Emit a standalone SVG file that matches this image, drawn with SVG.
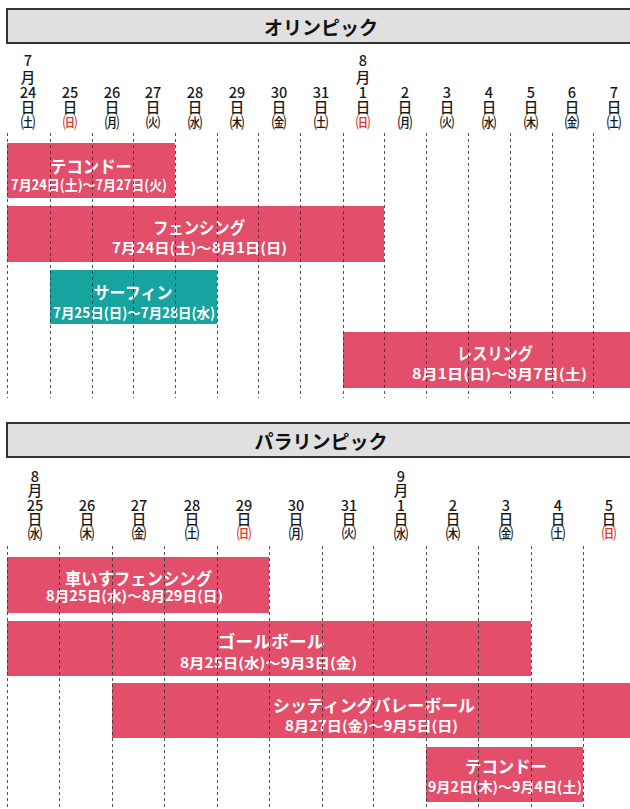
<svg xmlns="http://www.w3.org/2000/svg" width="630" height="809" viewBox="0 0 630 809">
<style>
.hdr{fill:#e0e0e0;stroke:#333;stroke-width:2}
.ttl{font-family:"Noto Sans CJK JP",sans-serif;font-weight:700;font-size:19px;fill:#111;text-anchor:middle}
.lb text{font-family:"Noto Sans CJK JP",sans-serif;font-weight:500;font-size:14.5px;fill:#1a1a1a;text-anchor:middle}
.lb .red{fill:#e0392b}
.bar{fill:#e34e6b}
.teal{fill:#17a39f}
.t1{font-family:"Noto Sans CJK JP",sans-serif;font-weight:700;font-size:17px;fill:#fff;text-anchor:middle}
.t2{font-family:"Noto Sans CJK JP",sans-serif;font-weight:700;font-size:14px;fill:#fff;text-anchor:middle}
.grid line{stroke:#333;stroke-width:1;stroke-dasharray:3 3;opacity:0.85}
</style>
<rect width="630" height="809" fill="#fff"/>

<!-- Olympic header -->
<g id="olympic-header">
<rect class="hdr" x="7" y="9" width="640" height="34"/>
<text class="ttl" x="321" y="35">オリンピック</text>
</g>

<!-- Olympic date labels -->
<g id="olympic-dates" class="lb">
<text x="28" y="66">7<tspan x="28" y="83">月</tspan><tspan x="28" y="98">24</tspan><tspan x="28" y="113">日</tspan><tspan x="28" y="128">㈯</tspan></text>
<text x="70" y="98">25<tspan x="70" y="113">日</tspan><tspan class="red" x="70" y="128">㈰</tspan></text>
<text x="112" y="98">26<tspan x="112" y="113">日</tspan><tspan x="112" y="128">㈪</tspan></text>
<text x="153" y="98">27<tspan x="153" y="113">日</tspan><tspan x="153" y="128">㈫</tspan></text>
<text x="195" y="98">28<tspan x="195" y="113">日</tspan><tspan x="195" y="128">㈬</tspan></text>
<text x="237" y="98">29<tspan x="237" y="113">日</tspan><tspan x="237" y="128">㈭</tspan></text>
<text x="279" y="98">30<tspan x="279" y="113">日</tspan><tspan x="279" y="128">㈮</tspan></text>
<text x="321" y="98">31<tspan x="321" y="113">日</tspan><tspan x="321" y="128">㈯</tspan></text>
<text x="363" y="66">8<tspan x="363" y="83">月</tspan><tspan x="363" y="98">1</tspan><tspan x="363" y="113">日</tspan><tspan class="red" x="363" y="128">㈰</tspan></text>
<text x="405" y="98">2<tspan x="405" y="113">日</tspan><tspan x="405" y="128">㈪</tspan></text>
<text x="447" y="98">3<tspan x="447" y="113">日</tspan><tspan x="447" y="128">㈫</tspan></text>
<text x="489" y="98">4<tspan x="489" y="113">日</tspan><tspan x="489" y="128">㈬</tspan></text>
<text x="531" y="98">5<tspan x="531" y="113">日</tspan><tspan x="531" y="128">㈭</tspan></text>
<text x="572" y="98">6<tspan x="572" y="113">日</tspan><tspan x="572" y="128">㈮</tspan></text>
<text x="614" y="98">7<tspan x="614" y="113">日</tspan><tspan x="614" y="128">㈯</tspan></text>
</g>

<!-- Olympic bars -->
<g id="o-taekwondo">
<rect class="bar" x="7" y="143" width="168" height="55"/>
<text class="t1" x="91" y="173" textLength="82" lengthAdjust="spacingAndGlyphs">テコンドー</text>
<text class="t2" x="89" y="190" textLength="156" lengthAdjust="spacingAndGlyphs">7月24日(土)～7月27日(火)</text>
</g>
<g id="o-fencing">
<rect class="bar" x="7" y="206" width="377" height="56"/>
<text class="t1" x="199" y="234" textLength="92" lengthAdjust="spacingAndGlyphs">フェンシング</text>
<text class="t2" x="199.5" y="253" textLength="175" lengthAdjust="spacingAndGlyphs">7月24日(土)～8月1日(日)</text>
</g>
<g id="o-surfing">
<rect class="teal" x="50" y="270" width="167" height="54"/>
<text class="t1" x="133" y="299" textLength="79" lengthAdjust="spacingAndGlyphs">サーフィン</text>
<text class="t2" x="134" y="318" textLength="162" lengthAdjust="spacingAndGlyphs">7月25日(日)～7月28日(水)</text>
</g>
<g id="o-wrestling">
<rect class="bar" x="343" y="332" width="300" height="56"/>
<text class="t1" x="495" y="360" textLength="76" lengthAdjust="spacingAndGlyphs">レスリング</text>
<text class="t2" x="499.5" y="379" textLength="175" lengthAdjust="spacingAndGlyphs">8月1日(日)～8月7日(土)</text>
</g>

<!-- Paralympic header -->
<g id="para-header">
<rect class="hdr" x="7" y="423" width="640" height="34"/>
<text class="ttl" x="321" y="449">パラリンピック</text>
</g>

<!-- Paralympic date labels -->
<g id="para-dates" class="lb">
<text x="35" y="482">8<tspan x="35" y="496">月</tspan><tspan x="35" y="511">25</tspan><tspan x="35" y="525">日</tspan><tspan x="35" y="539">㈬</tspan></text>
<text x="87" y="511">26<tspan x="87" y="525">日</tspan><tspan x="87" y="539">㈭</tspan></text>
<text x="139" y="511">27<tspan x="139" y="525">日</tspan><tspan x="139" y="539">㈮</tspan></text>
<text x="192" y="511">28<tspan x="192" y="525">日</tspan><tspan x="192" y="539">㈯</tspan></text>
<text x="244" y="511">29<tspan x="244" y="525">日</tspan><tspan class="red" x="244" y="539">㈰</tspan></text>
<text x="296" y="511">30<tspan x="296" y="525">日</tspan><tspan x="296" y="539">㈪</tspan></text>
<text x="349" y="511">31<tspan x="349" y="525">日</tspan><tspan x="349" y="539">㈫</tspan></text>
<text x="401" y="482">9<tspan x="401" y="496">月</tspan><tspan x="401" y="511">1</tspan><tspan x="401" y="525">日</tspan><tspan x="401" y="539">㈬</tspan></text>
<text x="453" y="511">2<tspan x="453" y="525">日</tspan><tspan x="453" y="539">㈭</tspan></text>
<text x="506" y="511">3<tspan x="506" y="525">日</tspan><tspan x="506" y="539">㈮</tspan></text>
<text x="558" y="511">4<tspan x="558" y="525">日</tspan><tspan x="558" y="539">㈯</tspan></text>
<text x="609" y="511">5<tspan x="609" y="525">日</tspan><tspan class="red" x="609" y="539">㈰</tspan></text>
</g>

<!-- Paralympic bars -->
<g id="p-wheelchair-fencing">
<rect class="bar" x="7" y="557" width="262" height="56"/>
<text class="t1" x="138.5" y="585" textLength="147" lengthAdjust="spacingAndGlyphs">車いすフェンシング</text>
<text class="t2" x="134.5" y="601" textLength="177" lengthAdjust="spacingAndGlyphs">8月25日(水)～8月29日(日)</text>
</g>
<g id="p-goalball">
<rect class="bar" x="7" y="621" width="524" height="55"/>
<text class="t1" x="271" y="648" textLength="107" lengthAdjust="spacingAndGlyphs">ゴールボール</text>
<text class="t2" x="268.5" y="668" textLength="177" lengthAdjust="spacingAndGlyphs">8月25日(水)～9月3日(金)</text>
</g>
<g id="p-sitting-volleyball">
<rect class="bar" x="112" y="683" width="530" height="55"/>
<text class="t1" x="374" y="712" textLength="202" lengthAdjust="spacingAndGlyphs">シッティングバレーボール</text>
<text class="t2" x="371.5" y="731" textLength="173" lengthAdjust="spacingAndGlyphs">8月27日(金)～9月5日(日)</text>
</g>
<g id="p-taekwondo">
<rect class="bar" x="426" y="747" width="157" height="55"/>
<text class="t1" x="506" y="773" textLength="82" lengthAdjust="spacingAndGlyphs">テコンドー</text>
<text class="t2" x="505" y="792" textLength="154" lengthAdjust="spacingAndGlyphs">9月2日(木)～9月4日(土)</text>
</g>

<!-- grid lines -->
<g id="connectors" class="grid">
<g id="olympic-grid">
<line x1="7.5" y1="133" x2="7.5" y2="398"/><line x1="50.5" y1="133" x2="50.5" y2="398"/><line x1="92.5" y1="133" x2="92.5" y2="398"/><line x1="133.5" y1="133" x2="133.5" y2="398"/><line x1="175.5" y1="133" x2="175.5" y2="398"/><line x1="217.5" y1="133" x2="217.5" y2="398"/><line x1="258.5" y1="133" x2="258.5" y2="398"/><line x1="300.5" y1="133" x2="300.5" y2="398"/><line x1="343.5" y1="133" x2="343.5" y2="398"/><line x1="384.5" y1="133" x2="384.5" y2="398"/><line x1="426.5" y1="133" x2="426.5" y2="398"/><line x1="468.5" y1="133" x2="468.5" y2="398"/><line x1="510.5" y1="133" x2="510.5" y2="398"/><line x1="552.5" y1="133" x2="552.5" y2="398"/><line x1="593.5" y1="133" x2="593.5" y2="398"/>
</g>
<g id="para-grid">
<line x1="7.5" y1="546" x2="7.5" y2="809"/><line x1="59.5" y1="546" x2="59.5" y2="809"/><line x1="112.5" y1="546" x2="112.5" y2="809"/><line x1="164.5" y1="546" x2="164.5" y2="809"/><line x1="217.5" y1="546" x2="217.5" y2="809"/><line x1="269.5" y1="546" x2="269.5" y2="809"/><line x1="322.5" y1="546" x2="322.5" y2="809"/><line x1="373.5" y1="546" x2="373.5" y2="809"/><line x1="426.5" y1="546" x2="426.5" y2="809"/><line x1="478.5" y1="546" x2="478.5" y2="809"/><line x1="531.5" y1="546" x2="531.5" y2="809"/><line x1="583.5" y1="546" x2="583.5" y2="809"/>
</g>
</g>
</svg>
